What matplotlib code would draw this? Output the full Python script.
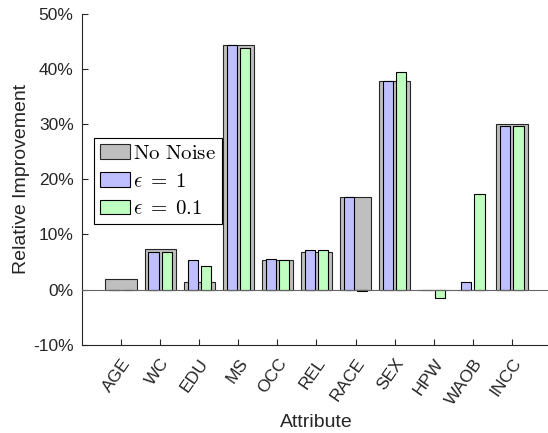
import numpy as np
import matplotlib.pyplot as plt
from matplotlib.ticker import FuncFormatter

plt.rcParams['font.family'] = ['Liberation Sans', 'DejaVu Sans']
plt.rcParams['mathtext.fontset'] = 'cm'

attributes = ['AGE', 'WC', 'EDU', 'MS', 'OCC', 'REL', 'RACE', 'SEX', 'HPW', 'WAOB', 'INCC']
no_noise = [2.0, 7.3, 1.3, 44.3, 5.3, 6.9, 16.8, 37.8, 0.0, 0.0, 30.0]
eps_1 = [-0.1, 6.9, 5.3, 44.4, 5.5, 7.1, 16.8, 37.8, 0.0, 1.3, 29.6]
eps_01 = [-0.1, 6.9, 4.2, 43.8, 5.3, 7.1, -0.2, 39.4, -1.45, 17.3, 29.6]

x = np.arange(1, len(attributes) + 1)
fig = plt.figure(figsize=(5.48, 4.33), dpi=100)
ax = fig.add_axes([0.1496, 0.2039, 0.8558, 0.7637])

ax.bar(x, no_noise, width=0.8, color='#bfbfbf', edgecolor='0.15', linewidth=0.8,
       label=r'$\mathrm{No\ Noise}$', zorder=2)
ax.bar(x - 0.17, eps_1, width=0.26, color='#bfbfff', edgecolor='k', linewidth=0.8,
       label=r'$\epsilon\;=\;1$', zorder=3)
ax.bar(x + 0.17, eps_01, width=0.26, color='#bfffbf', edgecolor='k', linewidth=0.8,
       label=r'$\epsilon\;=\;0.1$', zorder=3)
ax.axhline(0, color='0.4', lw=0.8, zorder=4)

ax.set_xlim(0, 12)
ax.set_ylim(-10, 50)
ax.set_yticks(np.arange(-10, 51, 10))
ax.yaxis.set_major_formatter(FuncFormatter(lambda v, p: f'{v:.0f}%'))
ax.set_xticks(x)
ax.set_xticklabels(attributes, rotation=55, ha='right', va='top', rotation_mode='anchor',
                   fontsize=12.5)
for s in ['top', 'right']:
    ax.spines[s].set_visible(False)
for s in ['left', 'bottom']:
    ax.spines[s].set_color('0.15')
    ax.spines[s].set_linewidth(0.8)
ax.tick_params(direction='in', length=4, width=0.8, colors='0.15')
ax.tick_params(axis='y', pad=6, labelsize=12.5)
ax.tick_params(axis='x', pad=8, labelsize=12.5)
ax.set_xlabel('Attribute', fontsize=14, color='0.15', labelpad=5)
ax.set_ylabel('Relative Improvement', fontsize=14, color='0.15', labelpad=2)

leg = ax.legend(loc='upper left', bbox_to_anchor=(0.026, 0.625), borderaxespad=0,
                fontsize=15, fancybox=False, edgecolor='k', framealpha=1,
                handlelength=1.45, handleheight=0.7, handletextpad=0.15,
                labelspacing=0.42, borderpad=0.28)
leg.get_frame().set_linewidth(0.8)

fig.savefig('out.png', dpi=100)
